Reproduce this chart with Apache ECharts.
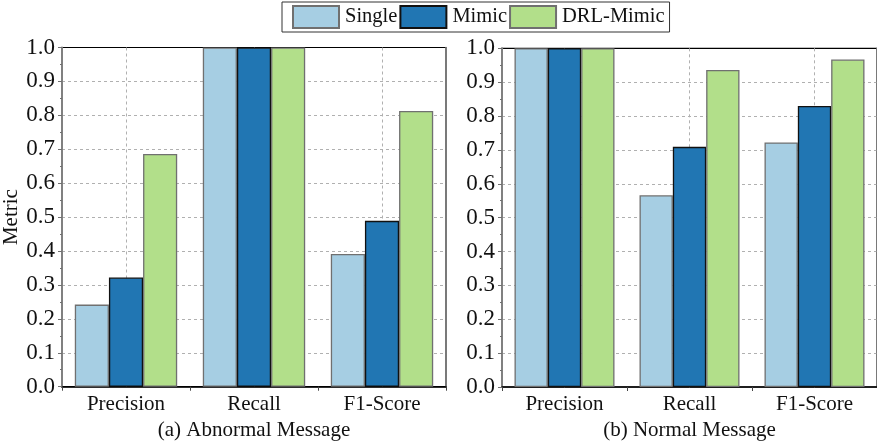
<!DOCTYPE html>
<html><head><meta charset="utf-8">
<script src="https://cdn.jsdelivr.net/npm/echarts@6/dist/echarts.min.js"></script>
<style>html,body{margin:0;padding:0;background:#fff}#c{width:877px;height:446px}</style>
</head><body><div id="c"></div>
<script>
const categories = ['Precision', 'Recall', 'F1-Score'];
const seriesNames = ['Single', 'Mimic', 'DRL-Mimic'];
const abnormalSingle = [0.242, 1.0, 0.391];
const abnormalMimic = [0.322, 1.0, 0.489];
const abnormalDRL = [0.686, 1.0, 0.813];
const normalSingle = [1.0, 0.566, 0.722];
const normalMimic = [1.0, 0.709, 0.830];
const normalDRL = [1.0, 0.936, 0.967];
const yTicks = [0, 0.1, 0.2, 0.3, 0.4, 0.5, 0.6, 0.7, 0.8, 0.9, 1.0];
const panelTitles = ['(a) Abnormal Message', '(b) Normal Message'];

const FONT = 'Liberation Serif';
const colors = ['#a6cee3', '#2176b3', '#b2df8a'];
const borders = ['#707070', '#111111', '#707070'];
const gridDash = '#b0b0b0';
const hLineColors = yTicks.map((t, i) => (i === 0 || i === yTicks.length - 1) ? 'rgba(0,0,0,0)' : gridDash);

const grids = [
  {left: 62, top: 47.5, width: 384, height: 339.2, show: true, borderColor: '#000', borderWidth: 1.2},
  {left: 502, top: 48.3, width: 380, height: 339.4, show: true, borderColor: '#000', borderWidth: 1.2}
];
const xAxes = [];
const yAxes = [];
grids.forEach((g, i) => {
  xAxes.push({
    type: 'category', gridIndex: i, data: categories, position: 'bottom',
    axisLine: {lineStyle: {color: '#000', width: 1.5}},
    axisTick: {show: true, interval: 0, length: 4, lineStyle: {color: '#444'}},
    axisLabel: {fontFamily: FONT, fontSize: 21, color: '#111', margin: 7},
    splitLine: {show: true, alignWithLabel: true, interval: 0, lineStyle: {color: gridDash, type: [3, 3]}},
    name: panelTitles[i], nameLocation: 'middle', nameGap: 33,
    nameTextStyle: {fontFamily: FONT, fontSize: 21, color: '#111'}
  });
  xAxes.push({
    type: 'category', gridIndex: i, data: categories, position: 'top', offset: -g.height,
    axisLine: {show: false},
    axisTick: {show: true, alignWithLabel: true, inside: true, length: -4, lineStyle: {color: '#444'}},
    axisLabel: {show: false}, splitLine: {show: false}
  });
  yAxes.push({
    type: 'value', gridIndex: i, min: 0, max: 1, interval: 0.1, position: 'left',
    axisLine: {show: true, lineStyle: {color: '#808080', width: 2}},
    axisTick: {show: true, length: 4, lineStyle: {color: '#707070'}},
    minorTick: {show: true, splitNumber: 2, length: 2, lineStyle: {color: '#707070'}},
    axisLabel: {fontFamily: FONT, fontSize: 23, color: '#111', margin: 7,
      formatter: v => yTicks.includes(Math.round(v * 10) / 10) ? v.toFixed(1) : ''},
    splitLine: {show: true, lineStyle: {color: hLineColors, type: [3, 3]}},
    name: i === 0 ? 'Metric' : '', nameLocation: 'middle', nameGap: 35,
    nameTextStyle: {fontFamily: FONT, fontSize: 21, color: '#111'}
  });
  yAxes.push({
    type: 'value', gridIndex: i, min: 0, max: 1, interval: 0.1, position: 'right',
    axisLine: {show: true, lineStyle: {color: '#808080', width: 1.5}},
    axisTick: {show: false}, axisLabel: {show: false}, splitLine: {show: false}
  });
});

const panelData = [[abnormalSingle, abnormalMimic, abnormalDRL], [normalSingle, normalMimic, normalDRL]];
const series = [];
panelData.forEach((sets, p) => {
  sets.forEach((vals, k) => {
    series.push({
      name: seriesNames[k], type: 'bar', xAxisIndex: p * 2, yAxisIndex: p * 2,
      data: vals, barGap: '0%', barCategoryGap: '20%',
      itemStyle: {color: colors[k], borderColor: borders[k], borderWidth: 1.3},
      emphasis: {disabled: true}
    });
  });
});

const chart = echarts.init(document.getElementById('c'), null, {renderer: 'canvas'});
chart.setOption({
  animation: false,
  legend: {
    data: seriesNames.map(n => ({name: n, icon: 'rect'})), left: 282, top: 2, orient: 'horizontal',
    itemWidth: 46, itemHeight: 22, itemGap: 2,
    borderColor: '#333', borderWidth: 1, padding: [3, 5, 3, 10],
    textStyle: {fontFamily: FONT, fontSize: 20.5, color: '#111', padding: [0, 0, 0, 1]},
    selectedMode: false
  },
  grid: grids, xAxis: xAxes, yAxis: yAxes, series: series
});
</script></body></html>
